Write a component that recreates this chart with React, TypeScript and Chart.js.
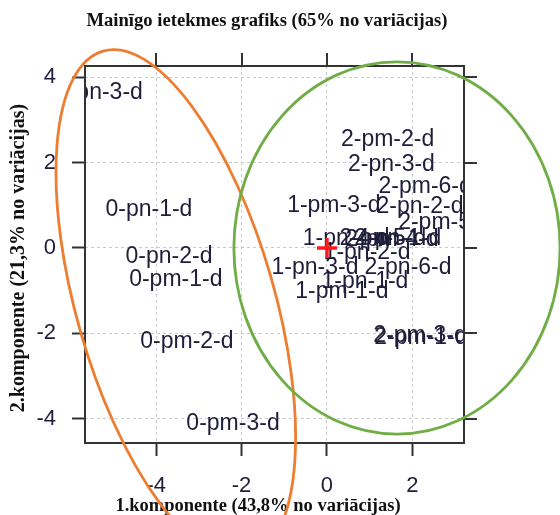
import React, { useEffect, useRef } from "react";
import { Chart, registerables } from "chart.js";

Chart.register(...registerables);

const TITLE = "Mainīgo ietekmes grafiks (65% no variācijas)";
const X_TITLE = "1.komponente (43,8% no variācijas)";
const Y_TITLE = "2.komponente (21,3% no variācijas)";

const pointLabels = [
  "0-pn-3-d", "0-pn-1-d", "0-pn-2-d", "0-pm-1-d", "0-pm-2-d", "0-pm-3-d",
  "2-pm-2-d", "2-pn-3-d", "2-pm-6-d", "1-pm-3-d", "2-pn-2-d", "2-pm-5-d",
  "1-pn-4-d", "2-pn-5-d", "2-pm-4-d", "2-pn-1-d", "1-pn-2-d", "1-pn-3-d",
  "2-pn-6-d", "1-pn-1-d", "1-pm-1-d", "2-pm-3-d", "2-pm-1-d",
];
const comp1 = [
  -5.33, -4.17, -3.70, -3.54, -3.28, -2.20,
  1.42, 1.51, 2.30, 0.16, 2.18, 2.76,
  0.45, 1.31, 1.52, 1.66, 0.94, -0.28,
  1.90, 0.89, 0.35, 2.18, 2.20,
];
const comp2 = [
  3.63, 0.89, -0.21, -0.75, -2.20, -4.12,
  2.53, 1.94, 1.43, 1.00, 0.96, 0.59,
  0.23, 0.23, 0.19, 0.21, -0.12, -0.47,
  -0.47, -0.80, -1.03, -2.06, -2.11,
];
const centroidX = [0];
const centroidY = [0];

const xTickValues = [-4, -2, 0, 2];
const yTickValues = [-4, -2, 0, 2, 4];
const xRange = [-5.667, 3.21];
const yRange = [-4.567, 4.262];

// hand-drawn ellipses (data units)
const ellipseCx = [-3.54, 1.64];
const ellipseCy = [-1.33, 0];
const ellipseRx = [2.32, 3.82];
const ellipseRy = [6.18, 4.36];
const ellipseAngleDeg = [-16, 0];
const ellipseColors = ["#ED7D31", "#70AD47"];

const TEXT_COLOR = "#1f1d3a";
const SANS = "'Liberation Sans', Arial, sans-serif";
const SERIF = "'Liberation Serif', 'Times New Roman', serif";

const decorPlugin = {
  id: "decor",
  beforeDatasetsDraw(chart: any) {
    const { ctx, chartArea, scales } = chart;
    const xs = scales.x;
    const ys = scales.y;
    ctx.save();
    ctx.beginPath();
    ctx.rect(chartArea.left, chartArea.top, chartArea.right - chartArea.left, chartArea.bottom - chartArea.top);
    ctx.clip();
    ctx.fillStyle = TEXT_COLOR;
    ctx.font = `23px ${SANS}`;
    ctx.textAlign = "center";
    ctx.textBaseline = "middle";
    pointLabels.forEach((lab, i) => {
      ctx.fillText(lab, xs.getPixelForValue(comp1[i]), ys.getPixelForValue(comp2[i]));
    });
    ctx.restore();
  },
  afterDraw(chart: any) {
    const { ctx, chartArea, scales } = chart;
    const xs = scales.x;
    const ys = scales.y;
    ctx.save();
    // frame
    ctx.strokeStyle = "#333333";
    ctx.lineWidth = 2;
    ctx.strokeRect(chartArea.left, chartArea.top, chartArea.right - chartArea.left, chartArea.bottom - chartArea.top);
    // top & right ticks
    ctx.beginPath();
    xTickValues.forEach((v) => {
      const px = Math.round(xs.getPixelForValue(v));
      ctx.moveTo(px, chartArea.top);
      ctx.lineTo(px, chartArea.top - 13);
    });
    yTickValues.forEach((v) => {
      const py = Math.round(ys.getPixelForValue(v));
      ctx.moveTo(chartArea.right, py);
      ctx.lineTo(chartArea.right + 13, py);
    });
    ctx.stroke();

    // titles
    ctx.fillStyle = "#111111";
    ctx.textAlign = "center";
    ctx.textBaseline = "middle";
    ctx.font = `bold 18.6px ${SERIF}`;
    ctx.fillText(TITLE, 267, 21);
    ctx.font = `bold 18.5px ${SERIF}`;
    ctx.fillText(X_TITLE, 258, 506);
    ctx.save();
    ctx.translate(19, 258);
    ctx.rotate(-Math.PI / 2);
    ctx.font = `bold 20px ${SERIF}`;
    ctx.fillText(Y_TITLE, 0, 0);
    ctx.restore();

    // ellipses
    ctx.lineWidth = 2.8;
    ellipseCx.forEach((cx, i) => {
      const px = xs.getPixelForValue(cx);
      const py = ys.getPixelForValue(ellipseCy[i]);
      const rx = Math.abs(xs.getPixelForValue(cx + ellipseRx[i]) - px);
      const ry = Math.abs(ys.getPixelForValue(ellipseCy[i] + ellipseRy[i]) - py);
      ctx.strokeStyle = ellipseColors[i];
      ctx.beginPath();
      ctx.ellipse(px, py, rx, ry, (ellipseAngleDeg[i] * Math.PI) / 180, 0, Math.PI * 2);
      ctx.stroke();
    });
    ctx.restore();
  },
};

export default function App() {
  const ref = useRef<HTMLCanvasElement | null>(null);
  useEffect(() => {
    if (!ref.current) return;
    const axisCommon = {
      type: "linear" as const,
      grid: {
        color: "#c9c9c9",
        lineWidth: 1,
        tickColor: "#333333",
        tickWidth: 2,
        tickLength: 13,
        tickBorderDash: [],
      },
      border: { display: false, dash: [3, 3] },
    };
    const chart = new Chart(ref.current, {
      type: "scatter",
      data: {
        datasets: [
          {
            label: "centrs",
            data: centroidX.map((x, i) => ({ x, y: centroidY[i] })),
            pointStyle: "cross",
            pointRadius: 10,
            borderColor: "#ff1a1a",
            backgroundColor: "#ff1a1a",
            pointBorderWidth: 3.5,
          },
        ],
      },
      options: {
        responsive: false,
        animation: false,
        devicePixelRatio: 1,
        layout: { padding: { left: 0, top: 66, right: 96, bottom: 0 } },
        plugins: { legend: { display: false }, tooltip: { enabled: false }, title: { display: false } },
        scales: {
          x: {
            ...axisCommon,
            position: "bottom",
            min: xRange[0],
            max: xRange[1],
            afterBuildTicks: (s: any) => {
              s.ticks = xTickValues.map((value) => ({ value }));
            },
            afterFit: (s: any) => {
              s.height = 72;
            },
            ticks: {
              color: TEXT_COLOR,
              font: { family: SANS, size: 22 },
              padding: 17,
              maxRotation: 0,
              autoSkip: false,
            },
          },
          y: {
            ...axisCommon,
            position: "left",
            min: yRange[0],
            max: yRange[1],
            afterBuildTicks: (s: any) => {
              s.ticks = yTickValues.map((value) => ({ value }));
            },
            afterFit: (s: any) => {
              s.width = 85;
            },
            ticks: {
              color: TEXT_COLOR,
              font: { family: SANS, size: 22 },
              padding: 16,
              autoSkip: false,
            },
          },
        },
      },
      plugins: [decorPlugin],
    } as any);
    return () => chart.destroy();
  }, []);
  return (
    <div style={{ position: "absolute", left: 0, top: 0, width: 560, height: 515, background: "#fff" }}>
      <canvas ref={ref} width={560} height={515} style={{ display: "block", width: 560, height: 515 }} />
    </div>
  );
}
